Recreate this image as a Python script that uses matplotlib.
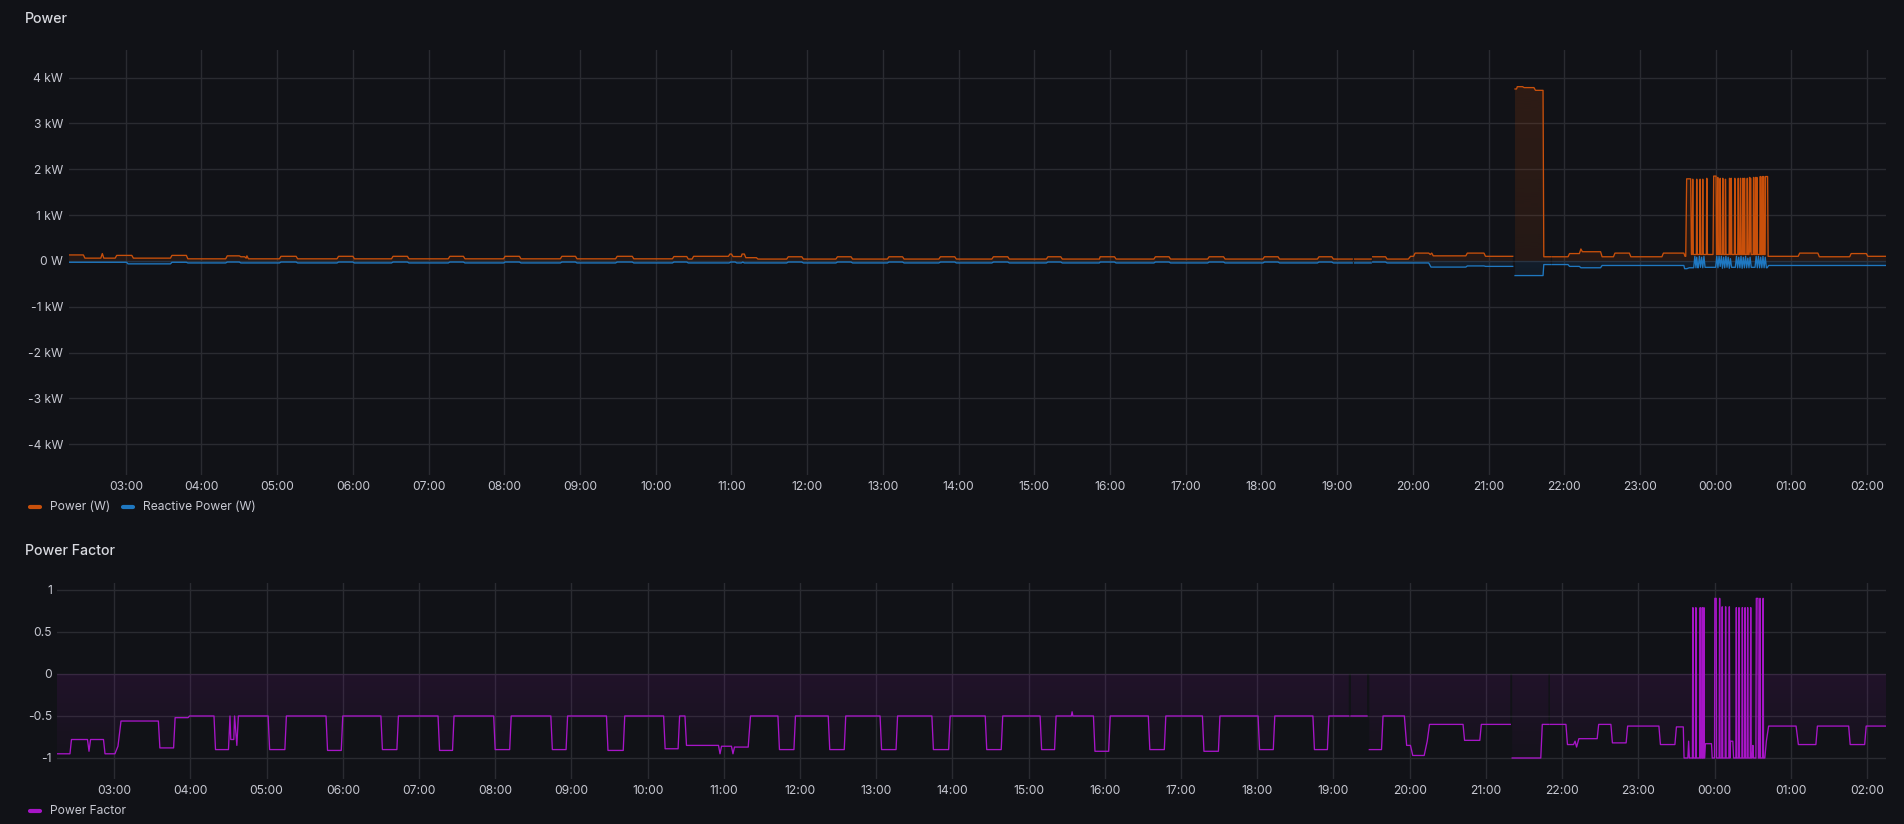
import numpy as np
import matplotlib
matplotlib.use("Agg")
import matplotlib.pyplot as plt
import matplotlib.dates as mdates
from matplotlib.path import Path
from matplotlib.patches import PathPatch
from matplotlib.lines import Line2D
from matplotlib.colors import to_rgb
from matplotlib.ticker import FuncFormatter, FixedLocator

nan = float("nan")

# ---------------- data (t = hours since 02:15, value) ----------------
START = np.datetime64("2024-03-10T02:15:00")
SPAN_HOURS = 24

# Active power (kW) : (t_start, t_end, level)
POWER = [
    (0.00, 0.19, 0.13), (0.21, 0.42, 0.06), (0.44, 0.44, 0.16), (0.46, 0.61, 0.06),
    (0.63, 0.83, 0.12), (0.85, 1.34, 0.06), (1.36, 1.55, 0.12), (1.57, 2.07, 0.045),
    (2.09, 2.25, 0.11), (2.27, 2.32, 0.09), (2.34, 2.34, 0.06), (2.35, 2.35, 0.11),
    (2.37, 2.78, 0.045), (2.80, 3.00, 0.10), (3.02, 3.54, 0.045), (3.56, 3.75, 0.10),
    (3.77, 4.26, 0.045), (4.28, 4.47, 0.10), (4.49, 5.01, 0.045), (5.03, 5.21, 0.10),
    (5.23, 5.74, 0.045), (5.76, 5.95, 0.10), (5.97, 6.49, 0.045), (6.51, 6.69, 0.10),
    (6.71, 7.22, 0.045), (7.24, 7.44, 0.10), (7.46, 7.97, 0.045), (7.99, 8.16, 0.095),
    (8.18, 8.23, 0.04), (8.25, 8.71, 0.10), (8.73, 8.75, 0.15), (8.77, 8.88, 0.095),
    (8.89, 8.92, 0.15), (8.94, 9.08, 0.07), (9.10, 9.48, 0.04), (9.50, 9.68, 0.09),
    (9.70, 10.13, 0.04), (10.15, 10.33, 0.09), (10.35, 10.81, 0.04), (10.83, 11.01, 0.09),
    (11.03, 11.49, 0.04), (11.51, 11.70, 0.09), (11.72, 12.19, 0.04), (12.21, 12.40, 0.09),
    (12.42, 12.91, 0.04), (12.93, 13.10, 0.09), (13.12, 13.61, 0.04), (13.62, 13.81, 0.09),
    (13.83, 14.33, 0.04), (14.35, 14.53, 0.09), (14.55, 15.04, 0.04), (15.06, 15.25, 0.09),
    (15.27, 15.77, 0.04), (15.79, 15.97, 0.09), (15.99, 16.49, 0.04), (16.51, 16.68, 0.09),
    (16.70, 16.95, 0.04), (16.955, 16.975, nan), (16.98, 17.20, 0.04), (17.205, 17.215, nan),
    (17.22, 17.39, 0.09), (17.41, 17.69, 0.04), (17.72, 17.76, 0.10), (17.78, 17.96, 0.17),
    (17.98, 17.98, 0.14), (18.00, 18.00, 0.17), (18.02, 18.45, 0.11), (18.47, 18.69, 0.17),
    (18.71, 19.07, 0.10), (19.08, 19.09, nan), (19.10, 19.12, 3.75), (19.13, 19.20, 3.80),
    (19.22, 19.35, 3.78), (19.37, 19.47, 3.72), (19.48, 19.57, 0.09), (19.575, 19.585, nan),
    (19.59, 19.80, 0.09), (19.82, 19.95, 0.16), (19.97, 19.97, 0.26), (19.99, 20.23, 0.20),
    (20.25, 20.40, 0.09), (20.42, 20.61, 0.17), (20.63, 21.04, 0.09), (21.06, 21.33, 0.17),
    (21.345, 21.355, 0.10),
    (21.367, 21.42, 1.79), (21.43, 21.44, 0.14), (21.446, 21.449, 1.78), (21.455, 21.495, 0.14),
    (21.499, 21.502, 1.78), (21.508, 21.538, 0.14), (21.543, 21.546, 1.78), (21.552, 21.573, 0.14),
    (21.578, 21.581, 1.78), (21.587, 21.627, 0.14), (21.632, 21.635, 1.80), (21.641, 21.715, 0.14),
    (21.724, 21.755, 1.85), (21.762, 21.77, 0.14), (21.777, 21.78, 1.82), (21.786, 21.803, 0.14),
    (21.808, 21.811, 1.80), (21.817, 21.838, 0.14), (21.843, 21.846, 1.80), (21.852, 21.873, 0.14),
    (21.878, 21.881, 1.78), (21.887, 21.927, 0.14), (21.932, 21.935, 1.80), (21.941, 21.949, 0.14),
    (21.954, 21.957, 1.80), (21.963, 21.997, 0.14), (22.002, 22.005, 1.80), (22.011, 22.042, 0.14),
    (22.047, 22.05, 1.80), (22.056, 22.072, 0.14), (22.077, 22.08, 1.80), (22.086, 22.103, 0.14),
    (22.108, 22.111, 1.80), (22.117, 22.125, 0.14), (22.13, 22.133, 1.80), (22.139, 22.161, 0.14),
    (22.166, 22.169, 1.80), (22.175, 22.192, 0.14), (22.197, 22.2, 1.82), (22.204, 22.206, 0.20),
    (22.21, 22.213, 1.80), (22.219, 22.245, 0.14), (22.25, 22.253, 1.82), (22.259, 22.271, 0.14),
    (22.276, 22.279, 1.82), (22.285, 22.289, 0.14), (22.294, 22.297, 1.82), (22.303, 22.333, 0.14),
    (22.338, 22.341, 1.84), (22.347, 22.359, 0.14), (22.364, 22.367, 1.84), (22.373, 22.377, 0.14),
    (22.382, 22.385, 1.84), (22.391, 22.403, 0.14), (22.408, 22.436, 1.84),
    (22.443, 22.84, 0.10), (22.86, 23.10, 0.17), (23.12, 23.52, 0.09), (23.54, 23.74, 0.16),
    (23.76, 24.00, 0.10),
]

# Reactive power (kW)
REACTIVE = [
    (0.00, 0.76, -0.03), (0.78, 1.34, -0.065), (1.36, 1.55, -0.03), (1.57, 2.07, -0.045),
    (2.09, 2.25, -0.025), (2.27, 2.78, -0.045), (2.80, 3.00, -0.025), (3.02, 3.54, -0.045),
    (3.56, 3.75, -0.025), (3.77, 4.26, -0.045), (4.28, 4.47, -0.025), (4.49, 5.01, -0.045),
    (5.03, 5.21, -0.025), (5.23, 5.74, -0.045), (5.76, 5.95, -0.025), (5.97, 6.49, -0.045),
    (6.51, 6.69, -0.025), (6.71, 7.22, -0.045), (7.24, 7.44, -0.025), (7.46, 7.97, -0.045),
    (7.99, 8.16, -0.025), (8.18, 8.72, -0.045), (8.74, 8.80, -0.025), (8.82, 8.88, -0.045),
    (8.90, 8.90, -0.025), (8.92, 9.48, -0.045), (9.50, 9.68, -0.025), (9.70, 10.13, -0.045),
    (10.15, 10.33, -0.025), (10.35, 10.81, -0.045), (10.83, 11.01, -0.025), (11.03, 11.49, -0.045),
    (11.51, 11.70, -0.025), (11.72, 12.19, -0.045), (12.21, 12.40, -0.025), (12.42, 12.91, -0.045),
    (12.93, 13.10, -0.025), (13.12, 13.61, -0.045), (13.62, 13.81, -0.025), (13.83, 14.33, -0.045),
    (14.35, 14.53, -0.025), (14.55, 15.04, -0.045), (15.06, 15.25, -0.025), (15.27, 15.77, -0.045),
    (15.79, 15.97, -0.025), (15.99, 16.49, -0.045), (16.51, 16.68, -0.025), (16.70, 16.95, -0.045),
    (16.955, 16.975, nan), (16.98, 17.20, -0.045), (17.205, 17.215, nan), (17.22, 17.39, -0.025),
    (17.41, 17.96, -0.045), (17.99, 18.45, -0.135), (18.47, 18.69, -0.11), (18.71, 19.07, -0.12),
    (19.08, 19.09, nan), (19.10, 19.47, -0.32), (19.48, 19.57, -0.08), (19.575, 19.585, nan),
    (19.59, 19.80, -0.08), (19.82, 19.95, -0.12), (19.97, 20.23, -0.15), (20.25, 21.33, -0.10),
    (21.34, 21.37, -0.17),
    (21.40, 21.46, -0.15), (21.475, 21.475, 0.10), (21.49, 21.49, -0.15), (21.50, 21.50, 0.08),
    (21.515, 21.52, -0.15), (21.535, 21.535, 0.10), (21.55, 21.55, -0.14), (21.565, 21.565, 0.08),
    (21.58, 21.58, -0.15), (21.595, 21.595, 0.10), (21.61, 21.75, -0.14), (21.765, 21.765, 0.10),
    (21.78, 21.78, -0.15), (21.795, 21.795, 0.10), (21.81, 21.81, -0.12), (21.825, 21.825, 0.10),
    (21.84, 21.84, -0.16), (21.855, 21.855, 0.08), (21.87, 21.87, -0.15), (21.885, 21.885, 0.10),
    (21.90, 21.90, -0.14), (21.915, 21.915, 0.08), (21.93, 21.93, -0.16), (21.945, 21.945, 0.05),
    (21.96, 22.01, -0.14), (22.025, 22.025, 0.10), (22.04, 22.04, -0.15), (22.055, 22.055, 0.08),
    (22.07, 22.07, -0.15), (22.085, 22.085, 0.10), (22.10, 22.10, -0.16), (22.115, 22.115, 0.08),
    (22.13, 22.13, -0.15), (22.145, 22.145, 0.10), (22.16, 22.16, -0.15), (22.175, 22.175, 0.06),
    (22.19, 22.19, -0.15), (22.205, 22.205, 0.08), (22.22, 22.27, -0.14), (22.285, 22.285, 0.10),
    (22.30, 22.30, -0.15), (22.315, 22.315, 0.10), (22.33, 22.33, -0.15), (22.345, 22.345, 0.08),
    (22.36, 22.36, -0.15), (22.375, 22.375, 0.10), (22.39, 22.39, -0.15), (22.405, 22.405, 0.08),
    (22.42, 22.43, -0.15), (22.45, 24.00, -0.10),
]

# Power factor
POWER_FACTOR = [
    (0.00, 0.17, -0.95), (0.19, 0.40, -0.78), (0.42, 0.42, -0.92), (0.44, 0.61, -0.78),
    (0.63, 0.76, -0.95), (0.80, 0.80, -0.86), (0.84, 1.33, -0.56), (1.35, 1.53, -0.88),
    (1.55, 1.72, -0.52), (1.74, 2.06, -0.50), (2.08, 2.25, -0.90), (2.27, 2.27, -0.50),
    (2.28, 2.32, -0.78), (2.33, 2.33, -0.50), (2.36, 2.36, -0.85), (2.38, 2.77, -0.50),
    (2.79, 2.99, -0.90), (3.01, 3.53, -0.50), (3.55, 3.73, -0.91), (3.75, 4.25, -0.50),
    (4.27, 4.46, -0.90), (4.48, 5.00, -0.50), (5.02, 5.19, -0.91), (5.21, 5.73, -0.50),
    (5.75, 5.94, -0.90), (5.96, 6.48, -0.50), (6.50, 6.68, -0.90), (6.70, 7.21, -0.50),
    (7.23, 7.43, -0.91), (7.45, 7.96, -0.50), (7.98, 8.15, -0.89), (8.17, 8.24, -0.50),
    (8.26, 8.68, -0.85), (8.70, 8.70, -0.95), (8.72, 8.85, -0.86), (8.87, 8.87, -0.95),
    (8.89, 9.07, -0.87), (9.10, 9.46, -0.50), (9.48, 9.67, -0.90), (9.69, 10.12, -0.50),
    (10.14, 10.33, -0.90), (10.35, 10.80, -0.50), (10.82, 11.01, -0.90), (11.03, 11.48, -0.50),
    (11.50, 11.70, -0.90), (11.72, 12.18, -0.50), (12.20, 12.39, -0.90), (12.41, 12.90, -0.50),
    (12.92, 13.09, -0.90), (13.11, 13.31, -0.50), (13.32, 13.32, -0.45), (13.33, 13.60, -0.50),
    (13.62, 13.80, -0.92), (13.82, 14.32, -0.50), (14.34, 14.53, -0.90), (14.55, 15.03, -0.50),
    (15.05, 15.24, -0.92), (15.26, 15.76, -0.50), (15.78, 15.96, -0.90), (15.98, 16.48, -0.50),
    (16.50, 16.67, -0.90), (16.69, 16.95, -0.50), (16.955, 16.975, nan), (16.98, 17.19, -0.50),
    (17.20, 17.215, nan), (17.22, 17.38, -0.90), (17.40, 17.68, -0.50), (17.71, 17.76, -0.85),
    (17.79, 17.94, -0.97), (17.98, 17.98, -0.80), (18.01, 18.45, -0.60), (18.47, 18.67, -0.79),
    (18.69, 19.07, -0.60), (19.08, 19.09, nan), (19.095, 19.47, -1.00), (19.49, 19.57, -0.60),
    (19.575, 19.585, nan), (19.59, 19.80, -0.60), (19.82, 19.90, -0.84), (19.92, 19.92, -0.80),
    (19.94, 19.94, -0.87), (19.97, 20.21, -0.77), (20.23, 20.39, -0.60), (20.41, 20.59, -0.82),
    (20.61, 21.02, -0.62), (21.04, 21.23, -0.84), (21.25, 21.34, -0.63),
    (21.35, 21.40, -1.00), (21.41, 21.41, -0.80), (21.42, 21.46, -1.00), (21.465, 21.467, 0.79),
    (21.47, 21.50, -1.00), (21.504, 21.506, 0.79), (21.51, 21.556, -1.00), (21.561, 21.563, 0.79),
    (21.567, 21.584, -1.00), (21.588, 21.590, 0.79), (21.594, 21.605, -1.00), (21.61, 21.612, 0.79),
    (21.617, 21.62, -1.00), (21.63, 21.71, -0.83), (21.72, 21.75, -1.00), (21.754, 21.772, 0.90),
    (21.777, 21.81, -1.00), (21.816, 21.818, 0.90), (21.822, 21.845, -1.00), (21.85, 21.852, 0.80),
    (21.857, 21.89, -1.00), (21.895, 21.897, 0.80), (21.902, 21.938, -1.00), (21.943, 21.945, 0.80),
    (21.95, 21.955, -1.00), (21.96, 21.99, -0.80), (22.00, 22.03, -1.00), (22.035, 22.037, 0.79),
    (22.042, 22.065, -1.00), (22.07, 22.072, 0.79), (22.077, 22.109, -1.00), (22.114, 22.116, 0.79),
    (22.121, 22.145, -1.00), (22.15, 22.152, 0.79), (22.157, 22.179, -1.00), (22.184, 22.186, 0.79),
    (22.191, 22.219, -1.00), (22.224, 22.226, 0.79), (22.231, 22.245, -1.00), (22.254, 22.254, -0.85),
    (22.262, 22.293, -1.00), (22.298, 22.32, 0.90), (22.325, 22.341, -1.00), (22.346, 22.348, 0.90),
    (22.353, 22.381, -1.00), (22.386, 22.388, 0.90), (22.393, 22.41, -1.00), (22.43, 22.43, -0.80),
    (22.46, 22.82, -0.62), (22.85, 23.08, -0.84), (23.10, 23.51, -0.62), (23.53, 23.72, -0.84),
    (23.74, 24.00, -0.62),
]

POWER_TICKS = [-4, -3, -2, -1, 0, 1, 2, 3, 4]
PF_TICKS = [-1, -0.5, 0, 0.5, 1]
SERIES_NAMES = ["Power (W)", "Reactive Power (W)", "Power Factor"]

# ---------------- style ----------------
BG = "#111217"
GRID = "#2a2b31"
TXT = "#c7c8d1"
TITLE = "#d8d9df"
C_POWER = "#c9500b"
C_REACT = "#1f78c1"
C_PF = "#a715c7"
FONT = ["Inter", "DejaVu Sans"]
plt.rcParams["font.family"] = FONT

W, H = 1904, 824


def expand(segs):
    ts, vs = [], []
    for t0, t1, v in segs:
        ts.append(t0)
        vs.append(v)
        if t1 != t0:
            ts.append(t1)
            vs.append(v)
    secs = np.round(np.array(ts) * 3600).astype(np.int64)
    x = START + secs.astype("timedelta64[s]")
    return x, np.array(vs, dtype=float)


def gradient_fill(ax, x, y, color, a_lo, a_hi, v_lo, v_hi, z=1):
    coll = ax.fill_between(x, y, 0, facecolor="none", edgecolor="none", linewidth=0)
    paths = coll.get_paths()
    coll.remove()
    if not paths:
        return
    path = Path.make_compound_path(*paths)
    n = 256
    img = np.zeros((n, 1, 4))
    img[..., :3] = to_rgb(color)
    img[:, 0, 3] = np.linspace(a_lo, a_hi, n)
    x0 = mdates.date2num(START)
    x1 = mdates.date2num(START + np.timedelta64(SPAN_HOURS * 3600, "s"))
    im = ax.imshow(img, extent=[x0, x1, v_lo, v_hi], origin="lower", aspect="auto",
                   interpolation="bilinear", zorder=z)
    patch = PathPatch(path, transform=ax.transData, facecolor="none", edgecolor="none")
    im.set_clip_path(patch)


def style_axes(ax, ypad):
    ax.set_facecolor(BG)
    for s in ax.spines.values():
        s.set_visible(False)
    ax.grid(True, color=GRID, linewidth=1.0, zorder=0)
    ax.set_axisbelow(True)
    ax.tick_params(axis="both", length=0, colors=TXT, labelsize=8.7)
    ax.tick_params(axis="y", pad=ypad)
    ax.tick_params(axis="x", pad=4)
    ax.xaxis.set_major_locator(mdates.HourLocator(interval=1))
    ax.xaxis.set_major_formatter(mdates.DateFormatter("%H:%M"))
    ax.set_xlim(START, START + np.timedelta64(SPAN_HOURS * 3600, "s"))


fig = plt.figure(figsize=(W / 100, H / 100), dpi=100, facecolor=BG)

# ---------- top panel ----------
ax1 = fig.add_axes([69 / W, 1 - 475 / H, (1886 - 69) / W, (475 - 50) / H])
xp, yp = expand(POWER)
xq, yq = expand(REACTIVE)
gradient_fill(ax1, xp, yp, C_POWER, 0.11, 0.16, 0.0, 3.8)
gradient_fill(ax1, xq, yq, C_REACT, 0.09, 0.14, -0.32, 0.1)
ax1.plot(xp, yp, color=C_POWER, linewidth=0.95, zorder=3)
ax1.plot(xq, yq, color=C_REACT, linewidth=0.95, zorder=3)
style_axes(ax1, 4.3)
ax1.set_ylim(-4.67, 4.6)
ax1.yaxis.set_major_locator(FixedLocator(POWER_TICKS))
ax1.yaxis.set_major_formatter(FuncFormatter(lambda v, p: "0 W" if v == 0 else f"{int(v)} kW"))

# ---------- bottom panel ----------
ax2 = fig.add_axes([57 / W, 1 - 779 / H, (1886 - 57) / W, (779 - 583) / H])
xf, yf = expand(POWER_FACTOR)
gradient_fill(ax2, xf, yf, C_PF, 0.03, 0.19, -1.0, 1.0)
ax2.plot(xf, yf, color=C_PF, linewidth=0.95, zorder=3)
style_axes(ax2, 3.6)
ax2.set_ylim(-1.25, 1.083)
ax2.yaxis.set_major_locator(FixedLocator(PF_TICKS))
ax2.yaxis.set_major_formatter(FuncFormatter(lambda v, p: f"{v:g}"))

# ---------- titles ----------
fig.text(25 / W, 1 - 19 / H, "Power", color=TITLE, fontsize=10.2, fontweight="medium",
         ha="left", va="center")
fig.text(25 / W, 1 - 551 / H, "Power Factor", color=TITLE, fontsize=10.2, fontweight="medium",
         ha="left", va="center")


# ---------- legends ----------
def legend_item(x_px, y_px, color, label):
    yy = 1 - y_px / H
    fig.add_artist(Line2D([(x_px + 2) / W, (x_px + 12) / W], [yy, yy], color=color,
                          linewidth=3.0, solid_capstyle="round", transform=fig.transFigure))
    fig.text((x_px + 22) / W, yy, label, color=TXT, fontsize=8.7, ha="left", va="center")


legend_item(28, 507, C_POWER, SERIES_NAMES[0])
legend_item(121, 507, C_REACT, SERIES_NAMES[1])
legend_item(28, 811, C_PF, SERIES_NAMES[2])

fig.savefig("out.png", dpi=100, facecolor=BG)
